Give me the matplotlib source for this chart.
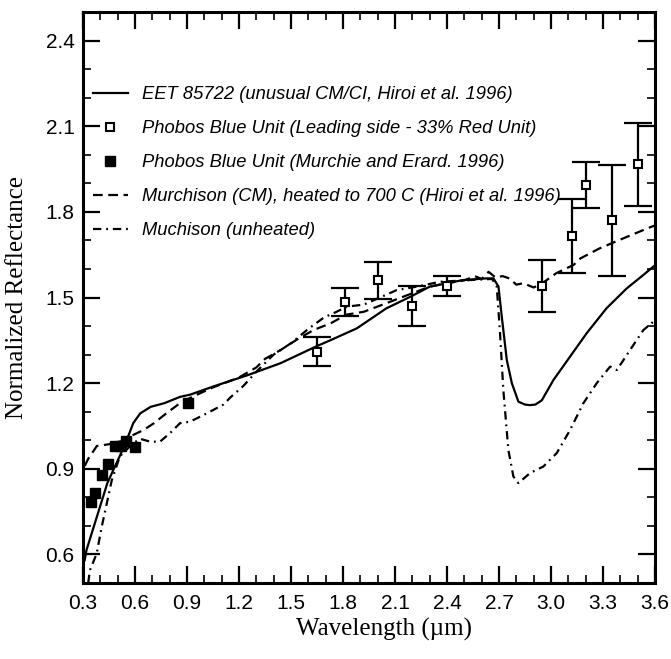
import numpy as np
import matplotlib
matplotlib.use("Agg")
import matplotlib.pyplot as plt
from matplotlib.ticker import MultipleLocator
from matplotlib.lines import Line2D

# EET 85722 (solid)
eet_x = [0.31, 0.32, 0.38, 0.44, 0.475, 0.52, 0.552, 0.59, 0.63, 0.69, 0.77, 0.86, 0.92, 1.05,
         1.25, 1.44, 1.65, 1.73, 1.88, 2.05, 2.19, 2.30, 2.40, 2.49, 2.63, 2.668, 2.697, 2.716,
         2.745, 2.774, 2.812, 2.85, 2.879, 2.91, 2.947, 3.014, 3.11, 3.206, 3.32, 3.437, 3.533,
         3.59, 3.60]
eet_y = [0.58, 0.615, 0.732, 0.849, 0.896, 0.955, 1.0, 1.06, 1.094, 1.117, 1.13, 1.152, 1.16, 1.188,
         1.228, 1.27, 1.33, 1.351, 1.392, 1.462, 1.503, 1.538, 1.55, 1.561, 1.567, 1.567, 1.538, 1.433,
         1.281, 1.2, 1.135, 1.125, 1.123, 1.125, 1.14, 1.211, 1.293, 1.375, 1.462, 1.532, 1.579,
         1.608, 1.612]

# Murchison heated to 700 C (dashed)
heat_x = [0.31, 0.33, 0.38, 0.45, 0.53, 0.57, 0.65, 0.71, 0.78, 0.86, 0.93, 1.05, 1.20, 1.30, 1.35,
          1.44, 1.53, 1.63, 1.73, 1.82, 1.92, 2.05, 2.17, 2.30, 2.40, 2.50, 2.56, 2.60, 2.64, 2.68,
          2.72, 2.76, 2.80, 2.84, 2.90, 2.95, 3.03, 3.13, 3.17, 3.28, 3.44, 3.58, 3.60]
heat_y = [0.91, 0.935, 0.98, 0.986, 0.998, 1.013, 1.036, 1.06, 1.094, 1.13, 1.152, 1.185, 1.22, 1.255,
          1.285, 1.316, 1.351, 1.386, 1.41, 1.44, 1.45, 1.48, 1.508, 1.538, 1.55, 1.56, 1.575, 1.565,
          1.59, 1.57, 1.575, 1.567, 1.545, 1.55, 1.535, 1.55, 1.585, 1.614, 1.637, 1.672, 1.713,
          1.748, 1.752]

# Murchison unheated (dash-dot)
unh_x = [0.33, 0.34, 0.379, 0.408, 0.437, 0.466, 0.513, 0.59, 0.63, 0.687, 0.744, 0.802, 0.86, 0.917,
         1.014, 1.11, 1.15, 1.225, 1.30, 1.40, 1.50, 1.60, 1.69, 1.763, 1.822, 1.92, 2.11, 2.225,
         2.36, 2.50, 2.66, 2.687, 2.706, 2.725, 2.754, 2.783, 2.812, 2.879, 2.956, 3.033, 3.11,
         3.187, 3.264, 3.341, 3.38, 3.456, 3.533, 3.59, 3.60]
unh_y = [0.50, 0.545, 0.603, 0.697, 0.778, 0.86, 0.944, 0.99, 1.005, 0.995, 0.995, 1.025, 1.06, 1.065,
         1.094, 1.125, 1.15, 1.19, 1.24, 1.30, 1.34, 1.39, 1.43, 1.45, 1.468, 1.475, 1.526, 1.538,
         1.555, 1.56, 1.565, 1.538, 1.375, 1.176, 0.966, 0.873, 0.85, 0.885, 0.908, 0.955, 1.036,
         1.13, 1.20, 1.258, 1.246, 1.316, 1.386, 1.415, 1.42]

# Phobos Blue Unit, leading side (open squares + error bars)
lead_x = [1.65, 1.81, 2.00, 2.20, 2.40, 2.95, 3.12, 3.20, 3.35, 3.50]
lead_y = [1.31, 1.485, 1.56, 1.47, 1.54, 1.54, 1.716, 1.895, 1.77, 1.966]
lead_err = [0.05, 0.05, 0.065, 0.07, 0.035, 0.09, 0.13, 0.08, 0.195, 0.145]

# Phobos Blue Unit, Murchie and Erard (filled squares)
me_x = [0.344, 0.369, 0.411, 0.446, 0.485, 0.517, 0.548, 0.60, 0.908]
me_y = [0.785, 0.816, 0.877, 0.917, 0.98, 0.98, 0.998, 0.975, 1.13]

labels = ["EET 85722 (unusual CM/CI, Hiroi et al. 1996)",
          "Phobos Blue Unit (Leading side - 33% Red Unit)",
          "Phobos Blue Unit (Murchie and Erard. 1996)",
          "Murchison (CM), heated to 700 C (Hiroi et al. 1996)",
          "Muchison (unheated)"]

plt.rcParams['lines.scale_dashes'] = False
sans = 'Liberation Sans'
serif = 'Liberation Serif'

fig = plt.figure(figsize=(6.71, 6.59), dpi=100)
ax = fig.add_axes([83/671, 1-583/659, 572/671, 571/659])

lw = 1.6
ax.plot(eet_x, eet_y, color='k', lw=lw)
ax.plot(heat_x, heat_y, color='k', lw=lw, dashes=(7, 4))
ax.plot(unh_x, unh_y, color='k', lw=lw, dashes=(6, 3.5, 1.3, 3.5))
ax.errorbar(lead_x, lead_y, yerr=lead_err, fmt='none', ecolor='k', elinewidth=1.6,
            capsize=10, capthick=1.6)
ax.plot(lead_x, lead_y, 's', ms=6, mfc='white', mec='k', mew=1.5, ls='none')
ax.plot(me_x, me_y, 's', ms=7.5, mfc='k', mec='k', ls='none')

ax.set_xlim(0.3, 3.6)
ax.set_ylim(0.5, 2.5)
ax.xaxis.set_minor_locator(MultipleLocator(0.1))
ax.yaxis.set_minor_locator(MultipleLocator(0.1))
ax.set_xticks(np.arange(0.3, 3.61, 0.3))
ax.set_yticks(np.arange(0.6, 2.41, 0.3))
ax.set_xticklabels(["%.1f" % v for v in np.arange(0.3, 3.61, 0.3)], fontfamily=sans, fontsize=15)
ax.set_yticklabels(["%.1f" % v for v in np.arange(0.6, 2.41, 0.3)], fontfamily=sans, fontsize=15)
ax.tick_params(which='both', direction='in', top=True, right=True)
ax.tick_params(which='major', length=12, width=1.6)
ax.tick_params(which='minor', length=5.5, width=1.2)
ax.tick_params(axis='x', which='major', pad=8)
ax.tick_params(axis='y', which='major', pad=6)
for s in ax.spines.values():
    s.set_linewidth(2.2)

ax.set_xlabel("Wavelength (\u00b5m)", fontfamily=serif, fontsize=18)
ax.set_ylabel("Normalized Reflectance", fontfamily=serif, fontsize=18)
ax.xaxis.set_label_coords(0.526, -0.062)
ax.yaxis.set_label_coords(-0.097, 0.5)

handles = [Line2D([], [], color='k', lw=lw),
           Line2D([], [], marker='s', ms=6, mfc='white', mec='k', mew=1.5, ls='none'),
           Line2D([], [], marker='s', ms=7.5, mfc='k', mec='k', ls='none'),
           Line2D([], [], color='k', lw=lw, dashes=(7, 4)),
           Line2D([], [], color='k', lw=lw, dashes=(6, 3.5, 1.3, 3.5))]
ax.legend(handles, labels, loc='upper left', bbox_to_anchor=(0.017, 0.870), frameon=False,
          borderpad=0, borderaxespad=0, handlelength=1.9, handletextpad=0.8, labelspacing=0.93,
          numpoints=1, prop={'family': sans, 'style': 'italic', 'size': 13.2})

fig.savefig("out.png", dpi=100)
